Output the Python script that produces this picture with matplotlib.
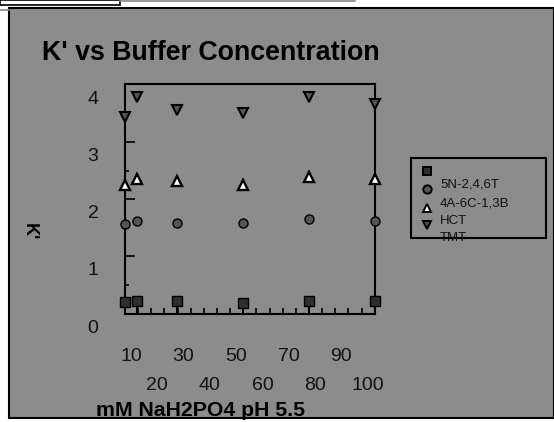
import matplotlib.pyplot as plt
from matplotlib.lines import Line2D
from matplotlib.patches import Rectangle
import numpy as np

plt.rcParams["font.family"] = ["Liberation Sans", "DejaVu Sans"]

# buffer concentration (mM) as placed on the chart
conc = [7.7, 12.2, 27.4, 52.5, 77.6, 102.8]

# K' per compound
k_5n = [0.46, 0.48, 0.48, 0.44, 0.48, 0.48]
k_4a = [1.81, 1.87, 1.83, 1.83, 1.90, 1.87]
k_hct = [2.49, 2.60, 2.57, 2.50, 2.64, 2.60]
k_tmt = [3.69, 4.03, 3.80, 3.76, 4.03, 3.91]

y_labels = [0, 1, 2, 3, 4]
x_labels_top = [10, 30, 50, 70, 90]
x_labels_bot = [20, 40, 60, 80, 100]
legend_labels = ["5N-2,4,6T", "4A-6C-1,3B", "HCT", "TMT"]

W, H = 554, 422
BG = "#8c8c8c"


def fx(x, y):
    return x / W, 1 - y / H


fig = plt.figure(figsize=(W / 100, H / 100), dpi=100, facecolor="white")

# grey panel and the stray borders at the top
fig.add_artist(Rectangle(fx(8.5, 418), (W - 8.5) / W, (418 - 7.5) / H,
                         transform=fig.transFigure, facecolor=BG,
                         edgecolor="black", linewidth=1.5, zorder=0))
fig.add_artist(Rectangle(fx(0, 4.6), 119.5 / W, 4.6 / H, transform=fig.transFigure,
                         facecolor="white", edgecolor="black", linewidth=1.2))
fig.add_artist(Line2D([119.5 / W, 355 / W], [1 - 0.6 / H] * 2,
                      transform=fig.transFigure, color="#888888", linewidth=1.2))
fig.add_artist(Line2D([0, 8.5 / W], [1 - 9.5 / H] * 2,
                      transform=fig.transFigure, color="#888888", linewidth=1.2))

ax = fig.add_axes([125 / W, 1 - 314 / H, 250 / W, 230 / H])
ax.set_facecolor("none")
ax.set_xlim(7.72, 102.8)
ax.set_ylim(0.245, 4.262)
for s in ax.spines.values():
    s.set_linewidth(1.5)

ax.set_yticks(np.arange(1.25, 4.0, 1.0))
ax.set_yticks([0.75, 1.75, 2.75, 3.75], minor=True)
ax.set_xticks([])
ax.set_xticks(np.arange(7.72, 103, 5.0), minor=True)
ax.tick_params(axis="both", which="both", direction="in", labelleft=False,
               labelbottom=False, width=1.2, color="black")
ax.tick_params(axis="y", which="major", length=7)
ax.tick_params(axis="y", which="minor", length=3)
ax.tick_params(axis="x", which="minor", length=4, top=False)

# drop lines under the squares
ax.vlines(conc, 0.245, k_5n, color="black", linewidth=1.5, zorder=3)

ms = 7
ax.plot(conc, k_5n, "s", ms=ms, mfc="#2e2e2e", mec="black", mew=1.0, clip_on=False, zorder=5)
ax.plot(conc, k_4a, "o", ms=ms - 0.5, mfc="#555555", mec="black", mew=1.0, clip_on=False, zorder=5)
ax.plot(conc, k_hct, "^", ms=ms, mfc="white", mec="black", mew=1.7, clip_on=False, zorder=5)
ax.plot(conc, k_tmt, "v", ms=ms, mfc="#555555", mec="black", mew=1.5, clip_on=False, zorder=5)

# tick labels placed where the original chart put them
ytr = ax.get_yaxis_transform()
for v in y_labels:
    ax.text(-0.128, v, str(v), transform=ytr, ha="center", va="center",
            fontsize=14, color="#111111", clip_on=False)
xtr = ax.get_xaxis_transform()
for v in x_labels_top:
    ax.text(v, -0.185, str(v), transform=xtr, ha="center", va="center",
            fontsize=14, color="#111111", clip_on=False)
for v in x_labels_bot:
    ax.text(v, -0.31, str(v), transform=xtr, ha="center", va="center",
            fontsize=14, color="#111111", clip_on=False)

fig.text(*fx(41.7, 53), "K' vs Buffer Concentration", fontsize=19.3,
         fontweight="bold", ha="left", va="center")
fig.text(*fx(29, 232), "K'", fontsize=13, fontweight="bold", rotation=270,
         ha="center", va="center")
fig.text(*fx(201, 410.5), "mM NaH2PO4 pH 5.5", fontsize=15.3, fontweight="bold",
         ha="center", va="center")

# hand-drawn legend
fig.add_artist(Rectangle(fx(411, 238.3), (545.7 - 411) / W, (238.3 - 157.7) / H,
                         transform=fig.transFigure, facecolor="none",
                         edgecolor="black", linewidth=1.5))
leg_marks = [("s", "#2e2e2e", 171), ("o", "#555555", 189.3),
             ("^", "white", 208), ("v", "#555555", 225)]
for m, fc, y in leg_marks:
    fig.add_artist(Line2D([426.7 / W], [1 - y / H], transform=fig.transFigure,
                          marker=m, ms=6, mfc=fc, mec="black", mew=1.4,
                          linestyle="none"))
for lbl, y in zip(legend_labels, [185, 203.3, 220.7, 238]):
    fig.text(*fx(440, y), lbl, fontsize=9.5, color="#111111", ha="left", va="center")

fig.savefig("out.png", dpi=100)
